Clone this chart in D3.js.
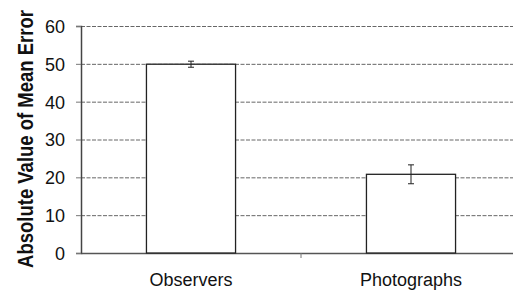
<!DOCTYPE html>
<html>
<head>
<meta charset="utf-8">
<script src="https://cdn.jsdelivr.net/npm/d3@7"></script>
<style>
  body { margin: 0; background: #fff; }
  svg { display: block; font-family: "Liberation Sans", Arial, sans-serif; }
</style>
</head>
<body>
<div id="chart"></div>
<script>
'use strict';

var categories = ["Observers", "Photographs"];
var meanErrors = [49.9, 20.8];
var errorMargins = [0.8, 2.5];
var yTicks = [0, 10, 20, 30, 40, 50, 60];

drawChart();

function drawChart() {
    var svgWidth = 513, svgHeight = 292;
    var left = 81, top = 26, bottom = 253, right = 521;

    var svg = d3.select("#chart").append("svg")
        .attr("width", svgWidth)
        .attr("height", svgHeight);

    var x = d3.scaleBand().domain(categories).range([left, right]);
    var y = d3.scaleLinear().domain([0, 60]).range([bottom, top]);

    // gridlines
    svg.selectAll("line.grid")
        .data(yTicks.filter(function (d) { return d > 0; }))
        .enter().append("line")
        .attr("class", "grid")
        .attr("x1", left).attr("x2", svgWidth)
        .attr("y1", function (d) { return y(d) + 0.5; })
        .attr("y2", function (d) { return y(d) + 0.5; })
        .attr("stroke", "#666")
        .attr("stroke-dasharray", "4,1.5")
        .attr("stroke-width", 1);

    // y axis
    var yAxis = svg.append("g")
        .attr("transform", "translate(" + left + ",0)")
        .call(d3.axisLeft(y).tickValues(yTicks).tickSize(5).tickPadding(11));
    yAxis.select(".domain").attr("stroke", "#444").attr("stroke-width", 1.5);
    yAxis.selectAll(".tick line").attr("stroke", "#777");
    yAxis.selectAll(".tick text")
        .attr("fill", "#111")
        .attr("dy", "0.36em")
        .style("font-size", "18px");

    // x axis
    var xAxis = svg.append("g")
        .attr("transform", "translate(0," + bottom + ")")
        .call(d3.axisBottom(x).tickSize(0).tickPadding(20));
    xAxis.select(".domain").attr("stroke", "#555").attr("stroke-width", 1.5);
    xAxis.selectAll(".tick text")
        .attr("fill", "#111")
        .style("font-size", "18px");

    // tick at category boundary
    svg.selectAll("line.sep")
        .data(categories.slice(1))
        .enter().append("line")
        .attr("class", "sep")
        .attr("x1", function (d) { return x(d); })
        .attr("x2", function (d) { return x(d); })
        .attr("y1", bottom).attr("y2", bottom + 5)
        .attr("stroke", "#777");

    // bars
    var barW = x.bandwidth() * 0.405;
    svg.selectAll("rect.bar")
        .data(meanErrors)
        .enter().append("rect")
        .attr("class", "bar")
        .attr("x", function (d, i) { return x(categories[i]) + (x.bandwidth() - barW) / 2; })
        .attr("y", function (d) { return y(d); })
        .attr("width", barW)
        .attr("height", function (d) { return bottom - y(d); })
        .attr("fill", "#fff")
        .attr("stroke", "#222")
        .attr("stroke-width", 1.3);

    // error bars
    var eb = svg.selectAll("g.err")
        .data(meanErrors)
        .enter().append("g")
        .attr("class", "err")
        .attr("stroke", "#222")
        .attr("stroke-width", 1);
    eb.append("line")
        .attr("x1", function (d, i) { return x(categories[i]) + x.bandwidth() / 2; })
        .attr("x2", function (d, i) { return x(categories[i]) + x.bandwidth() / 2; })
        .attr("y1", function (d, i) { return y(d + errorMargins[i]); })
        .attr("y2", function (d, i) { return y(d - errorMargins[i]); });
    [1, -1].forEach(function (s) {
        eb.append("line")
            .attr("x1", function (d, i) { return x(categories[i]) + x.bandwidth() / 2 - 3; })
            .attr("x2", function (d, i) { return x(categories[i]) + x.bandwidth() / 2 + 3; })
            .attr("y1", function (d, i) { return y(d + s * errorMargins[i]); })
            .attr("y2", function (d, i) { return y(d + s * errorMargins[i]); });
    });

    // y title
    svg.append("text")
        .attr("transform", "translate(33,139) rotate(-90) scale(1,1.15)")
        .attr("text-anchor", "middle")
        .attr("fill", "#111")
        .style("font-size", "18.5px")
        .style("font-weight", "bold")
        .text("Absolute Value of Mean Error");
}
</script>
</body>
</html>
